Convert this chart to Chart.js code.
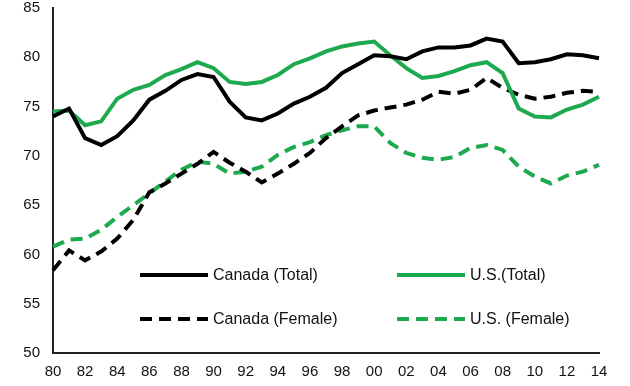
<!DOCTYPE html>
<html>
<head>
<meta charset="utf-8">
<script src="https://cdn.jsdelivr.net/npm/chart.js@4.4.1/dist/chart.umd.min.js"></script>
<style>
    html, body { margin: 0; padding: 0; background: #fff; }
    #wrap { width: 630px; height: 386px; }
</style>
</head>
<body>
<div id="wrap"><canvas id="chart" width="630" height="386"></canvas></div>
<script>
// Years 1980 - 2014 (two digit labels)
const years = ['80','81','82','83','84','85','86','87','88','89','90','91','92','93','94','95','96','97','98','99',
               '00','01','02','03','04','05','06','07','08','09','10','11','12','13','14'];

// Series values
const canadaTotal = [74.0, 74.8, 71.8, 71.1, 72.0, 73.6, 75.7, 76.6, 77.7, 78.3, 78.0, 75.5, 73.9, 73.6, 74.3, 75.3, 76.0, 76.9, 78.4, 79.3,
                     80.2, 80.1, 79.8, 80.6, 81.0, 81.0, 81.2, 81.9, 81.6, 79.4, 79.5, 79.8, 80.3, 80.2, 79.9];
const usTotal = [74.5, 74.6, 73.1, 73.5, 75.8, 76.7, 77.2, 78.2, 78.8, 79.5, 78.9, 77.5, 77.3, 77.5, 78.2, 79.3, 79.9, 80.6, 81.1, 81.4,
                 81.6, 80.2, 78.9, 77.9, 78.1, 78.6, 79.2, 79.5, 78.4, 74.8, 74.0, 73.9, 74.7, 75.2, 76.0];
const canadaFemale = [58.4, 60.4, 59.4, 60.3, 61.6, 63.5, 66.3, 67.2, 68.2, 69.2, 70.4, 69.3, 68.4, 67.3, 68.2, 69.2, 70.3, 71.8, 73.0, 74.1,
                      74.6, 74.9, 75.2, 75.7, 76.5, 76.3, 76.7, 77.9, 76.9, 76.2, 75.8, 76.0, 76.4, 76.6, 76.5];
const usFemale = [60.8, 61.5, 61.6, 62.5, 63.8, 65.0, 66.2, 67.4, 68.6, 69.4, 69.2, 68.2, 68.4, 68.9, 70.1, 70.9, 71.4, 72.1, 72.6, 73.0,
                  73.0, 71.3, 70.3, 69.8, 69.6, 69.9, 70.8, 71.1, 70.6, 68.9, 67.9, 67.2, 68.0, 68.4, 69.1];

// Y axis range
const yMin = 50;
const yMax = 85;
const yStep = 5;

const BLACK = '#000000';
const GREEN = '#1DAA4E';
const DASH = [12, 7];
const FONT = 'Arial, "Liberation Sans", sans-serif';

// Legend drawn inside the plot area (two rows, two columns)
const legendPlugin = {
    id: 'insideLegend',
    afterDraw(chart) {
        const ctx = chart.ctx;
        const area = chart.chartArea;
        const cols = [area.left + 87, area.left + 344];
        const rows = [area.top + 267, area.top + 311];
        const lineLen = 68;

        chart.data.datasets.forEach((ds, i) => {
            const x = cols[i % 2];
            const y = rows[Math.floor(i / 2)];
            ctx.save();
            ctx.strokeStyle = ds.borderColor;
            ctx.lineWidth = ds.borderWidth;
            ctx.setLineDash(ds.borderDash || []);
            ctx.beginPath();
            ctx.moveTo(x, y);
            ctx.lineTo(x + lineLen, y);
            ctx.stroke();
            ctx.setLineDash([]);
            ctx.fillStyle = '#111';
            ctx.font = '16px ' + FONT;
            ctx.textBaseline = 'middle';
            ctx.textAlign = 'left';
            ctx.fillText(ds.label, x + lineLen + 5, y + 1);
            ctx.restore();
        });
    }
};

function makeDataset(label, values, color, dashed) {
    return {
        label: label,
        data: values,
        borderColor: color,
        backgroundColor: color,
        borderWidth: 4,
        borderDash: dashed ? DASH : [],
        pointRadius: 0,
        tension: 0,
        fill: false
    };
}

const ctx = document.getElementById('chart').getContext('2d');
new Chart(ctx, {
    type: 'line',
    data: {
        labels: years,
        datasets: [
            makeDataset('Canada (Total)', canadaTotal, BLACK, false),
            makeDataset('U.S.(Total)', usTotal, GREEN, false),
            makeDataset('Canada (Female)', canadaFemale, BLACK, true),
            makeDataset('U.S. (Female)', usFemale, GREEN, true)
        ]
    },
    options: {
        responsive: false,
        animation: false,
        layout: { padding: { top: 8, right: 31, left: 0, bottom: 0 } },
        plugins: {
            legend: { display: false },
            tooltip: { enabled: false }
        },
        scales: {
            x: {
                offset: false,
                grid: { display: false, drawTicks: false },
                border: { color: '#222', width: 2 },
                ticks: {
                    autoSkip: false,
                    maxRotation: 0,
                    padding: 10,
                    color: '#111',
                    font: { size: 15, family: FONT },
                    callback: function (val, index) {
                        return index % 2 === 0 ? years[index] : '';
                    }
                },
                afterFit(scale) {
                    scale.height = 33;
                    scale.paddingLeft = 0;
                    scale.paddingRight = 0;
                }
            },
            y: {
                min: yMin,
                max: yMax,
                grid: { display: false, drawTicks: false },
                border: { color: '#222', width: 2 },
                ticks: {
                    stepSize: yStep,
                    padding: 13,
                    color: '#111',
                    font: { size: 15, family: FONT }
                },
                afterFit(scale) {
                    scale.width = 53;
                    scale.paddingTop = 0;
                    scale.paddingBottom = 0;
                }
            }
        }
    },
    plugins: [legendPlugin]
});
</script>
</body>
</html>
